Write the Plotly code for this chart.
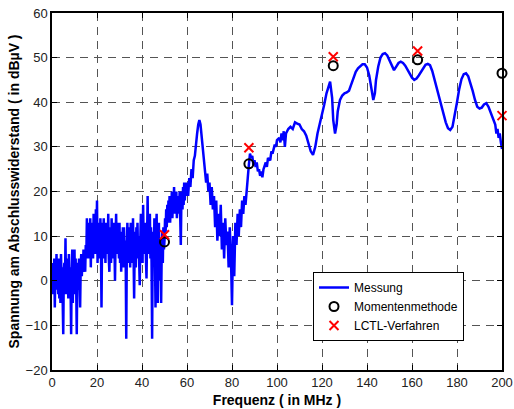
import numpy as np
import plotly.graph_objects as go

# Messung, 0 .. 60 MHz in 0.25 MHz steps (noisy part)
volt_a = [
    1, -3, 4, -1, 5, -6, 3, -2, 6, -1, 4, -3, 5, -4, 2, -5, 6, 0, 3, -2,
    -12, 2, 4, -1, 9.5, -3, 5, 0, 4, -4, 6, -2, 3, -1, -12, 2, 7, -5, 4, 0,
    7, -3, 5, -1, -12, 1, 4, -2, 5, 0, -6, 3, 6, 1, 4, 2, 7, 3, 5, 2, 8,
    5, 14, 7, 13, 5, 12, 6, 14, 3, 12, 7, 13, 5, 15, 8, 12, 6, 16, 9,
    18, 4, 13, 7, 12, 5, 14, 8, -6, 9, 13, 5, 14, 7, 11, 4, 13, 6, 12, 8,
    15, 5, 2, 9, 12, 4, 14, 7, 11, 5, 13, 8, 0, 9, 15, 6, 13, 7, 11, 5, 13,
    4, 11, 2, 10, 5, 12, 3, 12, 6, 9, 5, -13, 7, 13, 4, 12, 6, 11, 3,
    13, 5, 10, 4, 14, 6, -4, 8, 11, 3, 12, 7, 13, 5, 10, 4, -1, 9, 15, 6,
    12, 4, 17, 8, 11, 6, 13, 5, 0.5, 9, 19, 7, 13, 6, 15, 5, 12, 4, -13, 8,
    11, 5, 14, 6, -6, 10, 15, 4, -5, 9, 13, 3, 0, 8, -5, 6, 11, 4, 12, 7, 9,
    14, 11, 16, 12, 17, 13, 18, 14, 19, 13, 17, 15, 20, 14, 18, 16, 21, 15, 19,
    16, 20, 14, 18, 15, 19, 17, 20, 16, 8, 18, 20, 16, 21, 17, 22, 18, 21, 19, 22, 21,
]
freq_a = list(0.25 * np.arange(len(volt_a)))

# Messung, 60.5 .. 88 MHz in 0.5 MHz steps
volt_b = [
    19, 23, 21, 25, 23, 27, 28, 31, 33, 35, 36, 35, 32, 29, 27, 25, 22, 24, 20, 22,
    17, 21, 16, 19, 12, 18, 9, 15, 10, 17, 7, 13, 5, 14, 8, 11, 3, 12, 6, -5.5,
    10, 1, 13, 8, 15, 10, 16, 12, 18, 15, 19, 17, 21, 23, 26, 28.5,
]
freq_b = list(60.5 + 0.5 * np.arange(len(volt_b)))

# Messung, 88.5 .. 200 MHz (smooth part)
freq_c = [88.5, 89, 89.5, 90, 90.5, 91, 91.5, 92, 92.5, 93, 93.5, 94, 95, 95.5, 96, 97, 97.5, 98, 99, 99.5,
          100, 101, 101.5, 102, 102.5, 103, 103.5, 104, 105, 106, 107, 108, 109, 110, 111, 112, 113, 114,
          115, 116, 117, 118, 119, 120, 121, 122, 123, 123.6, 124.5, 125, 125.8, 126.5, 127, 128, 129, 130,
          131, 132, 133, 134, 135, 136, 137, 138, 139, 140, 141, 142, 142.8, 143.5, 144, 145, 146, 147, 148,
          149, 150, 151, 152, 153, 154, 155, 156, 157, 158, 159, 160, 161, 162, 163, 164, 165, 166, 167, 168,
          169, 170, 171, 172, 173, 174, 175, 176, 177, 178, 179, 180, 181, 182, 183, 184, 185, 186, 187, 188,
          189, 190, 191, 192, 193, 194, 195, 196, 197, 197.5, 198, 198.5, 199, 199.5, 200]
volt_c = [27.5, 28, 26, 27, 25.5, 26.5, 24.5, 25, 23.5, 24.5, 23.2, 25, 26.5, 25.5, 27.5, 27, 29, 28.5, 30.5, 30,
          31.5, 32, 31, 33, 31.5, 33.5, 30, 33, 34, 34.5, 34, 35.5, 35.2, 35, 34, 33.5, 32.5, 30.5,
          29, 28.2, 30, 33, 35, 37, 39.5, 42, 44, 44.6, 41, 36, 33, 35, 38, 40.5, 41.5, 42,
          42.2, 42.6, 44, 45.5, 46.8, 47.6, 48.1, 48.5, 48.5, 47.8, 46, 42.5, 40.5, 42, 45, 48, 50, 50.8, 51,
          50.5, 49.5, 48.3, 47.2, 48, 48.8, 49.1, 48.8, 48.2, 47.3, 46.3, 45.5, 45, 45.3, 46, 46.8, 47.8, 48.4, 48.6, 48.3,
          47, 45, 43, 41, 39, 37, 35.5, 34.2, 33.8, 34.5, 37, 40, 43, 45.2, 46.3, 46.5, 45.8, 44.3, 42.5, 40.5,
          39, 38.6, 38.8, 39.5, 39.8, 39, 37.5, 36, 35, 33, 34, 32, 33, 31, 29.5]

# Simulations
freq_sim = [50, 87.5, 125, 162.5, 200]
volt_mom = [8.7, 26.2, 48.2, 49.5, 46.5]
volt_lctl = [10.3, 29.8, 50.2, 51.5, 37.0]

x_ticks = list(range(0, 201, 20))
y_ticks = list(range(-20, 61, 10))

FONT = "Liberation Sans, Arial"

fig = go.Figure()
fig.add_trace(go.Scatter(x=freq_a + freq_b + freq_c, y=volt_a + volt_b + volt_c, mode="lines",
                         name="Messung", line=dict(color="#0000FF", width=2.5)))
fig.add_trace(go.Scatter(x=freq_sim, y=volt_mom, mode="markers", name="Momentenmethode",
                         marker=dict(symbol="circle-open", size=9, color="black", line=dict(width=2, color="black")),
                         cliponaxis=False))
fig.add_trace(go.Scatter(x=freq_sim, y=volt_lctl, mode="markers", name="LCTL-Verfahren",
                         marker=dict(symbol="x-thin-open", size=9, color="red", line=dict(width=2, color="red")),
                         cliponaxis=False))

axis_common = dict(showline=True, linecolor="black", linewidth=1.5, mirror="ticks",
                   ticks="inside", ticklen=5, tickcolor="black", tickwidth=1,
                   showgrid=True, gridcolor="#555555", gridwidth=1, griddash="8px,6px",
                   zeroline=False, automargin=False,
                   tickfont=dict(family=FONT, size=13, color="#222222"))

fig.update_xaxes(range=[0, 200], tickvals=x_ticks, **axis_common,
                 title=dict(text="<b>Frequenz ( in MHz )</b>", standoff=6,
                            font=dict(family=FONT, size=14, color="black")))
fig.update_yaxes(range=[-20, 60], tickvals=y_ticks, **axis_common,
                 title=dict(text="<b>Spannung am Abschlusswiderstand ( in dBµV )</b>", standoff=3,
                            font=dict(family=FONT, size=14, color="black")))

fig.update_layout(width=514, height=409, margin=dict(l=52, r=12, t=13, b=39),
                  paper_bgcolor="white", plot_bgcolor="white",
                  legend=dict(x=0.58, y=0.2745, xanchor="left", yanchor="top",
                              bgcolor="white", bordercolor="black", borderwidth=1,
                              font=dict(family=FONT, size=12, color="black"),
                              tracegroupgap=0, itemwidth=30))

fig.write_html("out.html", config={"displayModeBar": False},
               post_script="document.body.style.margin='0px';")
